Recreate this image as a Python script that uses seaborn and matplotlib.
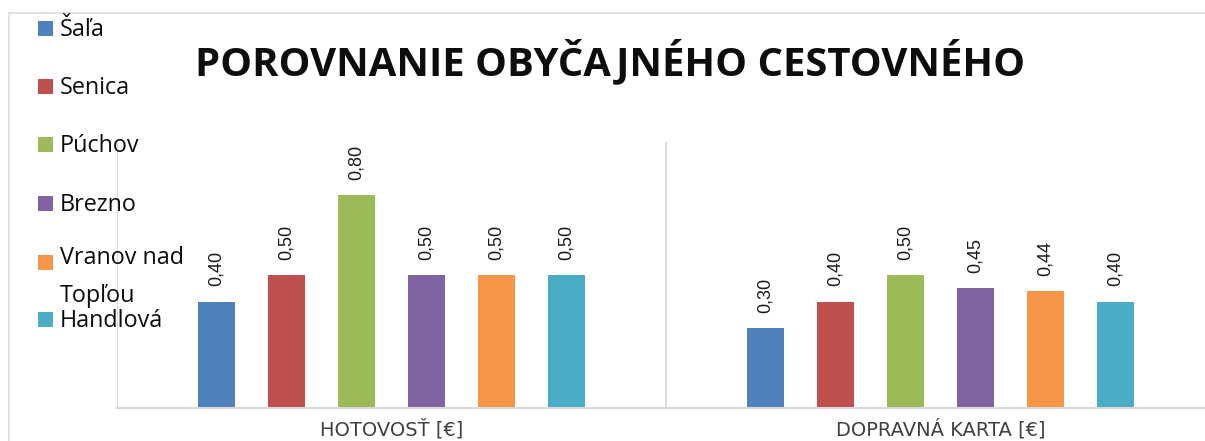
import matplotlib
matplotlib.use("Agg")
import matplotlib.pyplot as plt
from matplotlib.patches import Rectangle
import pandas as pd
import seaborn as sns

# Fare data (EUR) per town and payment method
cities = ["Šaľa", "Senica", "Púchov", "Brezno", "Vranov nad Topľou", "Handlová"]
legend_labels = ["Šaľa", "Senica", "Púchov", "Brezno", "Vranov nad\nTopľou", "Handlová"]
payment_types = ["HOTOVOSŤ [€]", "DOPRAVNÁ KARTA [€]"]
cash_fare = [0.40, 0.50, 0.80, 0.50, 0.50, 0.50]
card_fare = [0.30, 0.40, 0.50, 0.45, 0.44, 0.40]
colors = ["#4F81BD", "#C0504D", "#9BBB59", "#8064A2", "#F79646", "#4BACC6"]
title = "POROVNANIE OBYČAJNÉHO CESTOVNÉHO"

df = pd.DataFrame({
    "typ": [payment_types[0]] * len(cities) + [payment_types[1]] * len(cities),
    "mesto": cities * 2,
    "cena": cash_fare + card_fare,
})

sns.set_theme(style="white")
plt.rcParams["font.family"] = ["Open Sans", "DejaVu Sans"]

W, H = 1205, 441
fig = plt.figure(figsize=(W / 100, H / 100), dpi=100)


def fx(px):
    return px / W


def fy(py):
    return 1 - py / H


ax = fig.add_axes([fx(117), 33 / H, (1215 - 117) / W, (408 - 142) / H])

sns.barplot(
    data=df, x="typ", y="cena", hue="mesto",
    order=payment_types, hue_order=cities, palette=colors,
    width=0.765, gap=0.47, saturation=1, linewidth=0,
    errorbar=None, legend=False, ax=ax,
)

# Rotated value labels above the bars
for cont in ax.containers:
    labels = [f"{v:.2f}".replace(".", ",") for v in cont.datavalues]
    ax.bar_label(cont, labels=labels, rotation=90, padding=11,
                 fontsize=13, family=["Liberation Sans", "DejaVu Sans"],
                 color="#1a1a1a")

ax.set_xlim(-0.5, 1.5)
ax.set_ylim(0, 1.0)
ax.set_yticks([])
ax.set_xlabel("")
ax.set_ylabel("")
ax.set_xticks(range(len(payment_types)))
ax.set_xticklabels(payment_types, fontsize=14, color="#404040",
                   family=["DejaVu Sans"])
ax.tick_params(axis="x", length=0, pad=8)

# Category separators
ax.set_xticks([-0.5, 0.5, 1.5], minor=True)
ax.tick_params(axis="x", which="minor", length=0)
ax.grid(False, which="major")
ax.grid(True, which="minor", axis="x", color="#d9d9d9", lw=1.3)
ax.set_axisbelow(True)

for side in ["top", "right", "left"]:
    ax.spines[side].set_visible(False)
ax.spines["bottom"].set_color("#d9d9d9")
ax.spines["bottom"].set_linewidth(1.5)

# Chart-area frame
fig.add_artist(Rectangle((fx(9), -0.1), 1.2, fy(13) + 0.1,
                         transform=fig.transFigure, fill=False,
                         ec="#d9d9d9", lw=1.1))

# Title
fig.text(fx(610), fy(75), title, ha="center", va="baseline",
         fontsize=28.8, fontweight="bold", color="#0d0d0d")

# Legend column on the left; wrapped labels hang below their swatch
row_bottoms = [36, 94, 152, 211, 270, 327]
line_gap = 32
for lab, col, yb in zip(legend_labels, colors, row_bottoms):
    fig.add_artist(Rectangle((fx(38), fy(yb)), 15 / W, 15 / H,
                             transform=fig.transFigure, color=col, lw=0))
    extra = lab.count("\n") * line_gap
    fig.text(fx(60), fy(yb + extra), lab, ha="left", va="baseline",
             fontsize=16.8, color="#0d0d0d", linespacing=1.75)

fig.savefig("out.png", dpi=100)
